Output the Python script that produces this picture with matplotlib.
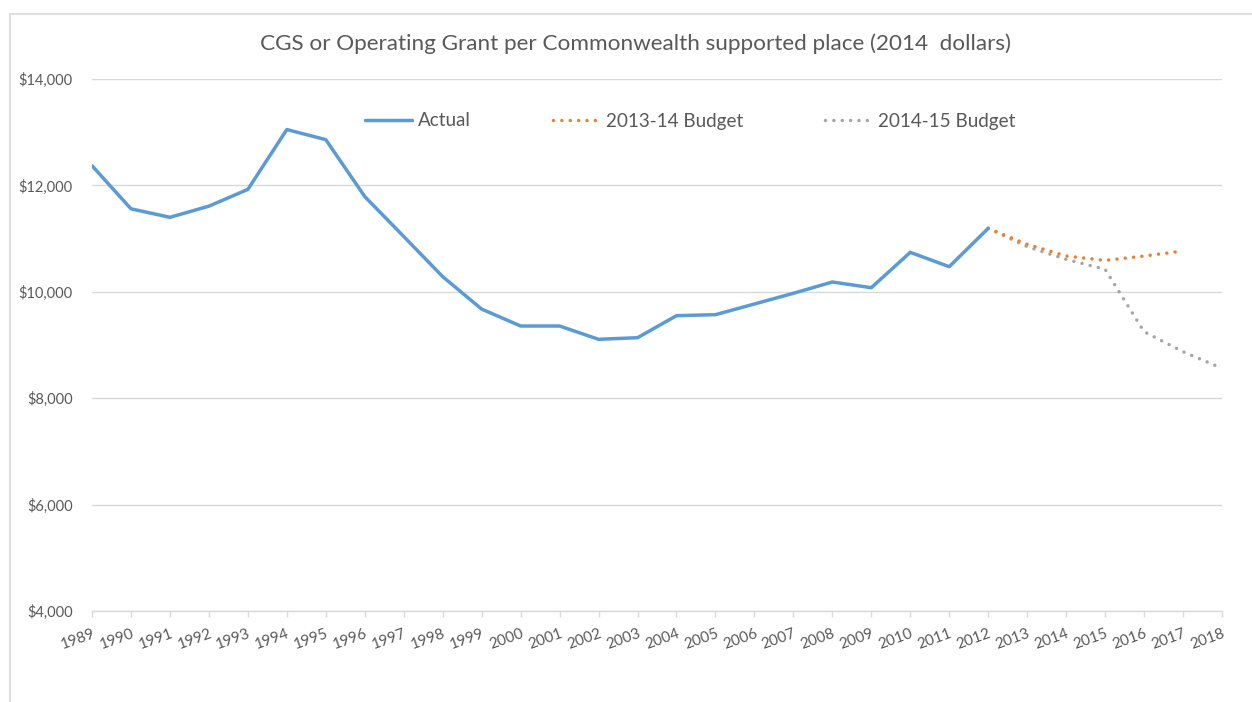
import matplotlib
matplotlib.use("Agg")
import matplotlib.pyplot as plt
from matplotlib.lines import Line2D
from matplotlib.ticker import FuncFormatter

plt.rcParams['font.family'] = ['Lato', 'DejaVu Sans']

years = list(range(1989, 2019))
actual_years = list(range(1989, 2013))
actual_values = [12370, 11560, 11400, 11610, 11925, 13050, 12860, 11790, 11040,
                 10285, 9675, 9357, 9357, 9107, 9137, 9551, 9570, 9771, 9972,
                 10184, 10077, 10742, 10472, 11193]
budget1314_years = [2012, 2013, 2014, 2015, 2016, 2017]
budget1314_values = [11193, 10893, 10673, 10590, 10673, 10767]
budget1415_years = [2012, 2013, 2014, 2015, 2016, 2017, 2018]
budget1415_values = [11193, 10848, 10610, 10423, 9250, 8874, 8562]
yticks = [4000, 6000, 8000, 10000, 12000, 14000]
title = "CGS or Operating Grant per Commonwealth supported place (2014  dollars)"

W, H = 1252, 702
fig = plt.figure(figsize=(W / 100, H / 100), dpi=100)
fig.patch.set_facecolor('white')

# chart-area border (top and left visible)
fig.add_artist(Line2D([10 / W, 10 / W], [0, 1 - 14 / H], transform=fig.transFigure,
                      color='#D9D9D9', lw=1.2))
fig.add_artist(Line2D([10 / W, 1], [1 - 14 / H, 1 - 14 / H], transform=fig.transFigure,
                      color='#D9D9D9', lw=1.2))

left, right, top, bottom = 92, 1222, 79, 611
ax = fig.add_axes([left / W, 1 - bottom / H, (right - left) / W, (bottom - top) / H])

blue = '#5B9BD5'
orange = '#ED7D31'
gray = '#A5A5A5'
txt = '#595959'

ax.plot(actual_years, actual_values, color=blue, lw=2.5, solid_capstyle='round',
        solid_joinstyle='round', label='Actual', zorder=3)
ax.plot(budget1314_years, budget1314_values, color=orange, lw=2.5,
        linestyle=(0, (0.01, 2.4)), dash_capstyle='round', label='2013-14 Budget', zorder=2)
ax.plot(budget1415_years, budget1415_values, color=gray, lw=2.5,
        linestyle=(0, (0.01, 2.4)), dash_capstyle='round', label='2014-15 Budget', zorder=1)

ax.set_xlim(1989, 2018)
ax.set_ylim(4000, 14000)
ax.set_yticks(yticks)
ax.yaxis.set_major_formatter(FuncFormatter(lambda v, p: f"${v:,.0f}"))
ax.set_xticks(years)
ax.set_xticklabels([str(y) for y in years], rotation=20, ha='right', va='top',
                   rotation_mode='anchor')

ax.grid(axis='y', color='#D9D9D9', lw=1)
ax.set_axisbelow(True)
for s in ['top', 'right', 'left']:
    ax.spines[s].set_visible(False)
ax.spines['bottom'].set_color('#D9D9D9')
ax.spines['bottom'].set_linewidth(1)

ax.tick_params(axis='y', length=0, pad=14, labelsize=10.5, labelcolor=txt)
ax.tick_params(axis='x', length=4, width=1, color='#D9D9D9', pad=7, labelsize=11,
               labelcolor=txt)

fig.text(635 / W, 1 - 44 / H, title, ha='center', va='center', fontsize=16.2, color=txt)

leg = ax.legend(loc='center', bbox_to_anchor=(690 / W, 1 - 121 / H),
                bbox_transform=fig.transFigure, ncol=3, frameon=False,
                fontsize=13.6, handlelength=2.5, handletextpad=0.3, columnspacing=4.35,
                labelcolor=txt)

fig.savefig('out.png', dpi=100, facecolor='white')
